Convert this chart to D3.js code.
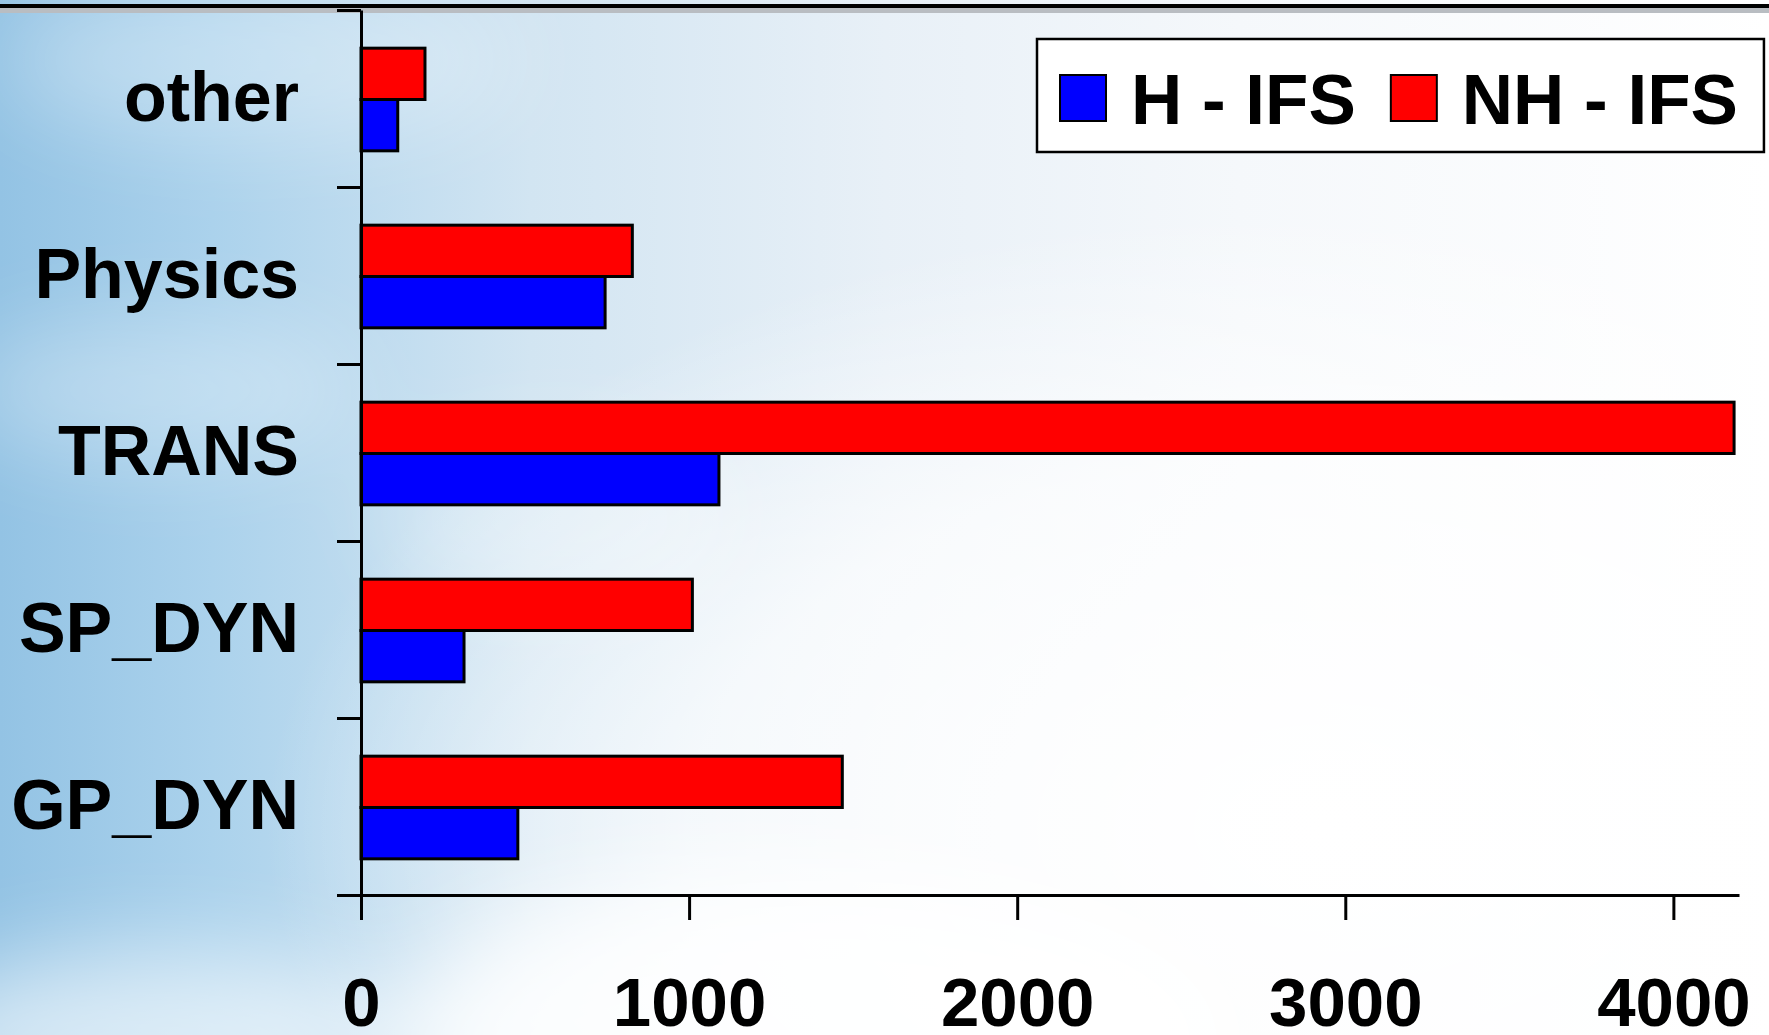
<!DOCTYPE html>
<html>
<head>
<meta charset="utf-8">
<script src="https://cdn.jsdelivr.net/npm/d3@7"></script>
<style>
  html, body { margin: 0; padding: 0; overflow: hidden; background: #fff; }
  text { font-family: "Liberation Sans", Arial, sans-serif; font-weight: bold; fill: #000; }
</style>
</head>
<body>
<div id="chart"></div>
<script>
// data (top to bottom)
const categories = ["other", "Physics", "TRANS", "SP_DYN", "GP_DYN"];
const seriesNames = ["H - IFS", "NH - IFS"];
const hIfs = [112, 744, 1091, 314, 478];
const nhIfs = [195, 827, 4185, 1010, 1467];
const xTicks = [0, 1000, 2000, 3000, 4000];
const colors = ["#0000ff", "#ff0000"];

const width = 1769;
const height = 1035;

const svg = d3.select("#chart")
  .append("svg")
  .attr("width", width)
  .attr("height", height);

// ---- background: sky fading to white ----
const defs = svg.append("defs");
const sky = defs.append("linearGradient").attr("id", "sky")
  .attr("x1", 0).attr("y1", 0).attr("x2", 1).attr("y2", 0);
[[0, "#93c3e4"], [0.12, "#abd2ec"], [0.3, "#d2e5f2"], [0.5, "#e8f0f7"], [0.7, "#f5f8fb"], [1, "#ffffff"]]
  .forEach(([o, c]) => sky.append("stop").attr("offset", o).attr("stop-color", c));

const glow = defs.append("radialGradient").attr("id", "glow")
  .attr("cx", 0.75).attr("cy", 0.8).attr("r", 0.6);
glow.append("stop").attr("offset", 0).attr("stop-color", "#fff").attr("stop-opacity", 1);
glow.append("stop").attr("offset", 0.6).attr("stop-color", "#fff").attr("stop-opacity", 0.7);
glow.append("stop").attr("offset", 1).attr("stop-color", "#fff").attr("stop-opacity", 0);

defs.append("filter").attr("id", "blur")
  .attr("x", "-50%").attr("y", "-50%").attr("width", "200%").attr("height", "200%")
  .append("feGaussianBlur").attr("stdDeviation", 45);

svg.append("rect").attr("width", width).attr("height", height).attr("fill", "url(#sky)");
svg.append("rect").attr("width", width).attr("height", height).attr("fill", "url(#glow)");

const clouds = [
  { cx: 160, cy: 1040, rx: 260, ry: 90, o: 0.6 },
  { cx: 820, cy: 1040, rx: 420, ry: 170, o: 0.85 },
  { cx: 160, cy: 390, rx: 200, ry: 70, o: 0.3 },
  { cx: 560, cy: 520, rx: 180, ry: 90, o: 0.3 },
  { cx: 260, cy: 60, rx: 260, ry: 80, o: 0.3 }
];
svg.append("g").attr("filter", "url(#blur)")
  .selectAll("ellipse")
  .data(clouds)
  .enter().append("ellipse")
  .attr("cx", d => d.cx).attr("cy", d => d.cy)
  .attr("rx", d => d.rx).attr("ry", d => d.ry)
  .attr("fill", "#fff").attr("opacity", d => d.o);

// slide rule at top
svg.append("rect").attr("x", 0).attr("y", 8).attr("width", width).attr("height", 5).attr("fill", "#b9bdc2");
svg.append("rect").attr("x", 0).attr("y", 4).attr("width", width).attr("height", 4).attr("fill", "#000");

// ---- scales ----
const x = d3.scaleLinear().domain([0, 4200]).range([361, 1739]);

const y = d3.scaleBand()
  .domain(categories)
  .range([11, 896])
  .paddingInner(0.42)
  .paddingOuter(0.21);

// NH bar on top, H bar below
const ySub = d3.scaleBand()
  .domain([1, 0])
  .range([0, y.bandwidth()]);

const yTick = d3.scaleLinear().domain([0, categories.length]).range([895, 10]);

// ---- bars ----
const series = [hIfs, nhIfs];
const groups = svg.selectAll(".cat")
  .data(categories)
  .enter().append("g")
  .attr("class", "cat")
  .attr("transform", d => `translate(0,${y(d)})`);

groups.selectAll("rect")
  .data((d, i) => series.map((s, k) => ({ k, v: s[i] })))
  .enter().append("rect")
  .attr("x", x(0))
  .attr("y", d => ySub(d.k))
  .attr("width", d => x(d.v) - x(0))
  .attr("height", ySub.bandwidth())
  .attr("fill", d => colors[d.k])
  .attr("stroke", "#000")
  .attr("stroke-width", 3);

// ---- axes ----
const yAxis = svg.append("g")
  .attr("transform", `translate(${x(0)},0)`)
  .call(d3.axisLeft(yTick).ticks(categories.length).tickFormat("").tickSize(24).tickSizeOuter(0));

const xAxis = svg.append("g")
  .attr("transform", "translate(0,895)")
  .call(d3.axisBottom(x).tickValues(xTicks).tickFormat(d3.format("d")).tickSize(25).tickSizeOuter(0));

[yAxis, xAxis].forEach(a => {
  a.select(".domain").attr("stroke", "#000").attr("stroke-width", 3);
  a.selectAll(".tick line").attr("stroke", "#000").attr("stroke-width", 3);
});

xAxis.selectAll(".tick text")
  .attr("y", 131)
  .attr("dy", null)
  .attr("font-size", 69)
  .attr("font-family", "'Liberation Sans', Arial, sans-serif")
  .attr("font-weight", "bold")
  .attr("fill", "#000");

// category labels
svg.selectAll(".catLabel")
  .data(categories)
  .enter().append("text")
  .attr("class", "catLabel")
  .attr("x", 299)
  .attr("y", d => y(d) + y.bandwidth() / 2)
  .attr("dy", "0.3em")
  .attr("text-anchor", "end")
  .attr("font-size", 70)
  .text(d => d);

// ---- legend ----
const legend = svg.append("g");
const box = legend.append("rect")
  .attr("x", 1037).attr("y", 39).attr("height", 113)
  .attr("fill", "#fff").attr("stroke", "#000").attr("stroke-width", 2.5);

let lx = 1060;
seriesNames.forEach((name, i) => {
  legend.append("rect")
    .attr("x", lx).attr("y", 75).attr("width", 46).attr("height", 46)
    .attr("fill", colors[i]).attr("stroke", "#000").attr("stroke-width", 2);
  const t = legend.append("text")
    .attr("x", lx + 71).attr("y", 124)
    .attr("font-size", 71)
    .text(name);
  lx = lx + 71 + t.node().getComputedTextLength() + 35;
});
box.attr("width", lx - 35 + 26 - 1037);
</script>
</body>
</html>
